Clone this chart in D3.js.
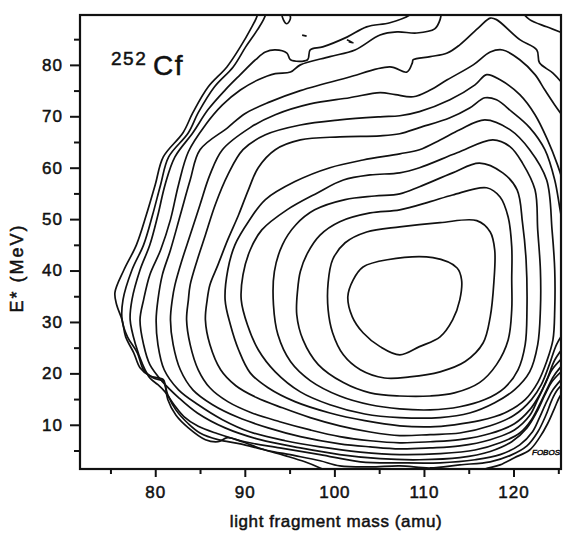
<!DOCTYPE html>
<html>
<head>
<meta charset="utf-8">
<script src="https://cdn.jsdelivr.net/npm/d3@7"></script>
<style>
  body { margin: 0; background: #fff; }
  text { font-family: "Liberation Sans", Arial, sans-serif; fill: #111; stroke: #111; stroke-width: 0.5; }
</style>
</head>
<body>
<script>
// axis ticks
const massTicks = [80, 90, 100, 110, 120];
const massMinorTicks = [75, 85, 95, 105, 115, 125];
const energyTicks = [10, 20, 30, 40, 50, 60, 70, 80];
const energyMinorTicks = [5, 15, 25, 35, 45, 55, 65, 75, 85];

// contour lines, [mass (amu), E* (MeV)], innermost first
const contour01 = [[103.2,40.7],[105.9,42.1],[111.0,42.5],[113.7,40.5],[114.2,38.2],[114.0,34.3],[113.2,30.4],[111.8,27.1],[109.5,25.2],[107.3,23.6],[105.1,25.2],[103.2,27.9],[102.0,31.0],[101.5,34.9],[102.1,38.2]];
const contour02 = [[103.6,47.5],[107.3,48.5],[111.8,49.3],[115.9,49.7],[117.4,47.5],[117.9,44.0],[117.8,37.6],[117.4,31.0],[116.6,25.9],[114.6,22.3],[111.8,20.3],[108.4,19.3],[105.6,19.1],[102.9,20.7],[101.0,23.6],[99.8,27.9],[99.3,32.4],[99.3,37.6],[99.8,42.1],[101.2,45.4]];
const contour03 = [[100.6,49.5],[104.0,51.2],[107.3,51.8],[110.7,53.4],[113.2,54.7],[117.0,56.1],[118.5,54.3],[119.4,50.4],[119.8,44.6],[119.8,38.2],[119.8,32.4],[119.4,26.5],[118.1,21.7],[116.2,18.2],[113.4,16.2],[110.7,15.6],[107.3,15.6],[104.0,16.2],[101.0,18.2],[98.2,21.7],[96.5,26.5],[95.8,31.4],[95.9,36.3],[96.2,39.8],[97.0,43.4],[98.4,46.9]];
const contour04 = [[97.8,51.8],[101.2,53.8],[104.5,54.5],[107.3,54.9],[109.5,56.3],[113.2,59.0],[116.2,60.9],[118.8,59.0],[120.4,55.7],[121.0,49.3],[121.4,42.1],[121.5,32.4],[121.3,25.6],[120.5,20.7],[119.0,17.2],[116.8,14.9],[114.0,13.5],[110.7,12.9],[107.3,13.1],[104.0,13.9],[100.6,15.6],[97.3,18.6],[95.1,22.3],[93.7,27.5],[93.2,33.3],[93.3,39.8],[94.2,45.0],[95.7,48.9]];
const contour05 = [[94.7,51.8],[98.1,55.1],[101.0,57.6],[104.0,58.6],[107.3,59.0],[109.5,60.0],[113.7,62.9],[117.7,65.4],[119.6,64.1],[121.0,60.9],[122.4,55.7],[122.7,47.9],[123.0,40.1],[123.0,32.4],[122.7,25.6],[121.8,20.3],[120.1,16.8],[117.9,14.3],[115.1,12.3],[111.8,11.4],[107.3,11.4],[103.4,12.1],[99.5,13.9],[96.2,16.4],[93.4,20.3],[91.5,24.6],[90.3,29.4],[89.6,34.3],[89.8,39.2],[90.6,44.0],[91.9,47.9]];
const contour06 = [[87.8,34.3],[88.1,40.1],[88.9,45.0],[90.4,49.5],[92.3,53.8],[95.6,57.3],[99.5,60.0],[103.2,61.5],[107.3,62.7],[109.5,63.5],[111.8,65.4],[114.0,67.4],[116.8,69.3],[119.6,67.4],[121.8,63.5],[123.7,57.6],[124.3,47.9],[124.6,40.1],[124.6,32.4],[124.4,26.5],[123.7,22.3],[122.7,18.2],[121.3,14.9],[119.0,12.3],[116.2,10.8],[113.4,10.0],[110.7,9.6],[107.3,9.8],[103.4,10.8],[99.5,12.3],[95.6,14.5],[92.6,17.2],[90.6,20.1],[89.3,24.6],[88.4,29.4]];
// outer contours run out of the frame
const contour07 = [[125.8,46.0],[125.2,51.8],[124.6,57.6],[123.5,63.5],[121.8,67.8],[119.8,70.9],[118.1,73.2],[116.8,73.6],[115.1,71.6],[112.9,69.7],[109.5,67.8],[107.3,66.6],[105.1,66.2],[100.6,66.0],[96.2,65.4],[93.4,63.5],[91.5,60.0],[90.4,55.7],[89.3,50.8],[88.1,46.0],[87.0,41.1],[86.1,37.2],[85.8,34.3],[85.6,30.4],[86.1,25.6],[87.3,20.7],[89.0,17.6],[91.3,15.3],[94.2,13.3],[97.3,11.4],[100.6,9.8],[104.0,8.6],[107.3,7.9],[110.7,8.1],[114.0,8.4],[117.4,9.8],[120.1,11.9],[122.0,14.9],[123.1,17.8],[124.0,21.7],[124.8,25.6],[125.8,28.5]];
const contour08 = [[125.8,55.7],[124.9,60.6],[123.8,65.4],[122.4,70.3],[120.7,74.2],[118.5,77.1],[117.0,78.1],[115.7,76.1],[112.9,73.2],[109.5,70.9],[107.3,70.1],[105.1,69.9],[100.6,69.3],[96.2,68.3],[92.3,66.4],[89.8,63.5],[88.1,58.6],[86.7,52.8],[85.6,46.9],[84.7,42.1],[83.9,37.2],[83.7,34.3],[83.5,30.4],[83.9,25.6],[84.8,20.7],[86.1,17.2],[88.1,14.5],[90.8,12.3],[93.9,10.6],[97.3,9.0],[100.6,7.7],[104.0,6.9],[107.3,6.5],[110.7,6.7],[114.0,7.1],[117.4,8.3],[120.1,10.2],[121.8,12.9],[122.9,15.8],[123.8,19.1],[124.6,22.6],[125.8,25.6]];
const contour09 = [[125.8,69.3],[124.6,72.2],[123.5,75.1],[122.4,78.1],[120.7,81.0],[118.8,82.9],[117.4,82.5],[115.5,80.0],[112.6,77.1],[110.7,75.1],[108.8,73.8],[106.8,74.2],[105.1,74.6],[101.7,73.6],[97.3,72.4],[93.4,70.3],[90.6,67.8],[87.5,63.5],[86.1,58.6],[85.0,52.8],[83.9,46.9],[83.0,42.1],[82.2,37.2],[81.9,34.3],[81.7,30.4],[82.0,25.6],[82.8,20.7],[84.2,16.8],[86.4,13.9],[89.3,11.4],[92.6,9.4],[96.2,7.7],[100.6,6.3],[104.0,5.7],[107.3,5.3],[110.7,5.5],[114.0,5.9],[117.4,7.1],[120.1,9.0],[121.8,11.8],[122.7,14.9],[123.5,17.8],[124.3,20.7],[125.8,23.6]];
const contour10 = [[125.8,75.7],[124.4,78.4],[122.9,80.4],[122.6,82.9],[120.7,84.9],[118.1,88.8],[117.4,89.1],[116.2,87.4],[114.0,83.9],[112.6,82.3],[110.7,81.6],[108.8,81.0],[108.7,80.4],[108.1,78.6],[106.2,79.6],[101.4,77.5],[96.2,75.0],[92.8,72.8],[90.0,70.5],[88.1,67.8],[85.0,63.5],[83.9,57.6],[82.8,50.8],[81.7,44.0],[80.8,39.2],[80.3,34.3],[80.1,30.4],[80.3,25.6],[81.0,20.7],[82.6,16.8],[84.8,13.9],[87.5,11.0],[90.6,8.6],[94.5,6.9],[98.4,5.7],[102.9,4.7],[107.3,4.2],[111.8,4.4],[115.7,5.1],[118.5,6.5],[120.7,8.4],[122.0,11.0],[122.9,13.9],[123.7,16.8],[124.5,19.5],[125.8,22.3]];
const contour11 = [[112.0,91.7],[111.8,88.8],[111.2,87.0],[109.2,86.2],[107.0,86.4],[105.1,85.8],[102.3,82.9],[99.5,81.6],[96.2,80.0],[95.1,78.6],[93.4,78.3],[91.5,77.1],[89.5,75.1],[87.5,72.2],[85.6,68.3],[83.7,63.1],[82.6,56.7],[81.7,49.9],[80.6,44.0],[79.4,39.2],[78.7,34.3],[78.3,30.4],[78.7,25.6],[79.4,21.7],[80.8,18.4],[82.6,15.3],[84.7,12.3],[87.8,9.4],[91.7,7.1],[96.2,5.5],[100.6,4.2],[105.1,3.4],[109.5,3.2],[114.0,3.6],[117.4,4.8],[119.8,6.7],[121.5,9.4],[122.6,12.5],[123.5,15.8],[124.3,18.4],[125.8,21.1]];
const contour11b = [[120.1,91.7],[120.9,90.3],[121.8,88.8],[123.7,87.4],[125.8,86.0]];
const contour12 = [[109.5,91.7],[108.4,89.7],[106.2,88.2],[103.6,87.4],[101.4,85.4],[98.7,83.5],[97.3,82.9],[97.0,81.0],[95.1,81.0],[94.7,82.3],[93.4,82.9],[92.3,82.5],[91.2,81.0],[89.5,78.1],[87.8,75.1],[85.9,71.3],[84.2,66.8],[82.2,62.1],[81.1,56.7],[80.3,50.8],[79.4,45.0],[78.3,40.1],[77.4,34.3],[77.2,30.4],[77.8,25.6],[78.6,21.7],[79.4,19.1],[80.3,17.8],[81.1,16.4],[82.1,13.9],[83.2,11.6],[84.8,9.7],[86.9,8.3],[90.0,6.7],[93.9,5.5],[98.4,4.2],[102.9,2.8],[107.3,2.6],[111.8,2.6],[115.7,3.2],[118.5,4.2],[120.7,6.1],[122.1,8.6],[122.9,11.4],[123.7,14.5],[124.4,16.8],[125.8,19.7]];
const contour13 = [[92.3,91.7],[92.3,89.7],[91.4,86.8],[90.1,83.5],[88.7,79.6],[86.6,75.7],[84.8,70.7],[83.7,66.8],[81.5,62.1],[80.6,56.7],[79.7,50.8],[78.7,45.0],[77.4,40.1],[76.4,34.3],[76.3,30.4],[76.9,27.1],[78.0,24.0],[78.7,20.7],[79.8,19.1],[80.9,18.4],[81.4,15.8],[82.3,12.9],[83.7,10.2],[85.0,8.4],[87.0,7.1],[89.5,6.3],[92.3,5.1],[95.6,4.0],[98.4,3.0],[100.6,2.0],[104.0,1.8],[107.3,2.0],[110.7,1.6],[114.0,2.2],[117.4,2.8],[119.6,4.0],[121.5,5.9],[122.7,8.6],[123.6,11.8],[124.3,14.9],[124.9,16.8],[125.8,18.4]];
const contour14 = [[91.4,91.7],[91.4,89.7],[90.6,86.8],[89.5,83.5],[88.0,79.6],[85.9,75.7],[84.2,70.7],[83.1,66.8],[80.9,62.1],[80.0,56.7],[79.0,50.8],[77.9,45.0],[76.5,40.1],[75.5,35.7],[75.7,33.3],[76.3,30.4],[76.7,27.1],[77.6,24.0],[78.3,21.1],[79.4,19.5],[80.9,18.8],[81.1,17.8],[81.4,14.9],[82.3,11.9],[83.7,9.4],[85.6,7.1],[87.0,6.7],[88.1,7.5],[89.7,6.7],[91.9,5.3],[94.5,4.0],[96.7,2.8],[98.4,1.6],[100.1,0.1]];
const contour14b = [[115.1,0.1],[116.8,1.4],[118.5,2.2],[120.1,3.6],[121.8,5.1],[122.9,7.5],[123.8,10.2],[124.6,13.3],[125.2,15.6],[125.8,16.8]];
// small islands near the top
const islandA = [[94.2,90.1],[94.8,90.1],[95.1,89.1],[94.7,88.0],[94.3,88.8]];
const islandB = [[96.4,85.8],[96.9,85.6]];
const islandC = [[101.4,84.9],[102.1,84.3],[101.6,84.5]];

const closedLines = [contour01, contour02, contour03, contour04, contour05, contour06, islandA];
const openLines = [contour07, contour08, contour09, contour10, contour11, contour11b,
  contour12, contour13, contour14, contour14b, islandB, islandC];

const width = 564;
const height = 534;
const plotLeft = 80, plotRight = 561, plotTop = 15, plotBottom = 469;

const x = d3.scaleLinear().domain([71.6, 125.3]).range([plotLeft, plotRight]);
const y = d3.scaleLinear().domain([1.4, 89.7]).range([plotBottom, plotTop]);

const svg = d3.select("body").append("svg")
  .attr("width", width)
  .attr("height", height);

svg.append("defs").append("clipPath").attr("id", "plot")
  .append("rect")
  .attr("x", plotLeft).attr("y", plotTop)
  .attr("width", plotRight - plotLeft).attr("height", plotBottom - plotTop);

// contours
const openLine = d3.line()
  .x(d => x(d[0])).y(d => y(d[1]))
  .curve(d3.curveCatmullRom.alpha(0.5));
const closedLine = d3.line()
  .x(d => x(d[0])).y(d => y(d[1]))
  .curve(d3.curveCatmullRomClosed.alpha(0.5));

const g = svg.append("g").attr("clip-path", "url(#plot)")
  .attr("fill", "none").attr("stroke", "#111").attr("stroke-width", 1.7)
  .attr("stroke-linejoin", "round");

g.selectAll("path.closed")
  .data(closedLines)
  .enter()
    .append("path")
    .attr("class", "closed")
    .attr("d", d => closedLine(d));

g.selectAll("path.open")
  .data(openLines)
  .enter()
    .append("path")
    .attr("class", "open")
    .attr("d", d => openLine(d));

// frame
svg.append("rect")
  .attr("x", plotLeft).attr("y", plotTop)
  .attr("width", plotRight - plotLeft).attr("height", plotBottom - plotTop)
  .attr("fill", "none").attr("stroke", "#111").attr("stroke-width", 2.2);

// axes
function styleAxis(sel) {
  sel.select(".domain").remove();
  sel.selectAll("line").attr("stroke", "#111").attr("stroke-width", 2);
  sel.selectAll("text").attr("font-size", 17).attr("fill", "#111")
    .attr("letter-spacing", 1)
    .attr("font-family", "'Liberation Sans', Arial, sans-serif");
}

svg.append("g")
  .attr("transform", `translate(0,${plotBottom})`)
  .call(d3.axisBottom(x).tickValues(massTicks).tickSize(8).tickPadding(9).tickSizeOuter(0))
  .call(styleAxis);
svg.append("g")
  .attr("transform", `translate(0,${plotBottom})`)
  .call(d3.axisBottom(x).tickValues(massMinorTicks).tickSize(5).tickFormat("").tickSizeOuter(0))
  .call(styleAxis);

svg.append("g")
  .attr("transform", `translate(${plotLeft},0)`)
  .call(d3.axisLeft(y).tickValues(energyTicks).tickSize(10).tickPadding(7).tickSizeOuter(0))
  .call(styleAxis);
svg.append("g")
  .attr("transform", `translate(${plotLeft},0)`)
  .call(d3.axisLeft(y).tickValues(energyMinorTicks).tickSize(6).tickFormat("").tickSizeOuter(0))
  .call(styleAxis);

// labels
svg.append("text")
  .attr("x", 336).attr("y", 527)
  .attr("text-anchor", "middle")
  .attr("font-size", 17)
  .attr("letter-spacing", 0.6)
  .text("light fragment mass (amu)");

svg.append("text")
  .attr("transform", "translate(23,268) rotate(-90)")
  .attr("text-anchor", "middle")
  .attr("font-size", 18)
  .attr("letter-spacing", 2)
  .text("E* (MeV)");

svg.append("text")
  .attr("x", 111).attr("y", 65)
  .attr("font-size", 19)
  .attr("letter-spacing", 1.5)
  .text("252");
svg.append("text")
  .attr("x", 153).attr("y", 75)
  .attr("font-size", 28)
  .attr("letter-spacing", 1.5)
  .text("Cf");

svg.append("text")
  .attr("x", 532).attr("y", 455)
  .attr("font-size", 8)
  .attr("font-style", "italic")
  .attr("stroke-width", 0.2)
  .text("FOBOS");
</script>
</body>
</html>
